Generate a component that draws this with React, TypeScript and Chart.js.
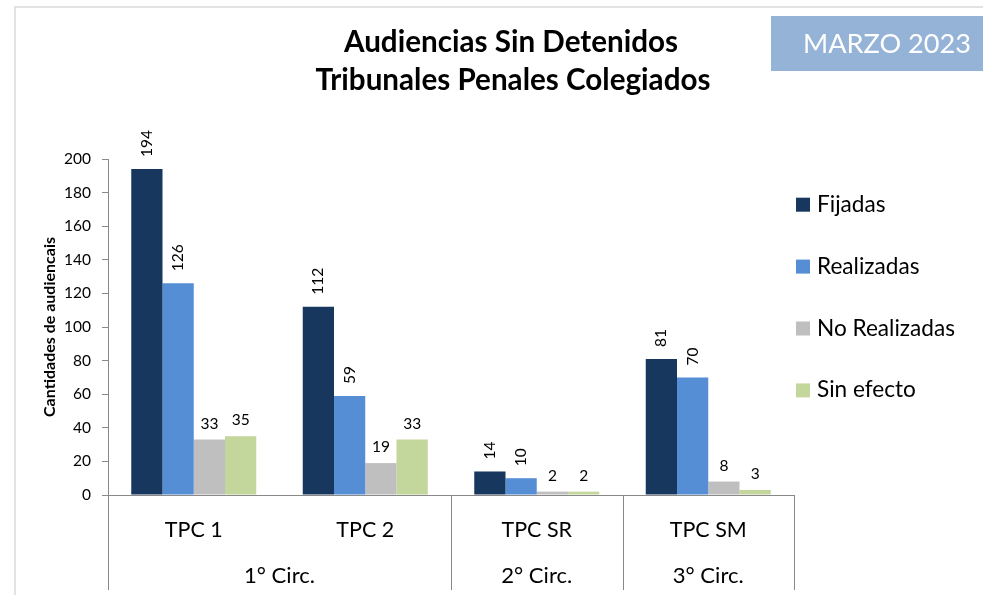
import React, { useEffect, useRef } from "react";
import { Chart, registerables } from "chart.js";

Chart.register(...registerables);

// ---- data ----
const categories = ["TPC 1", "TPC 2", "TPC SR", "TPC SM"];
const groupLabels = ["1° Circ.", "2° Circ.", "3° Circ."];
const groupSpans = [2, 1, 1];
const seriesNames = ["Fijadas", "Realizadas", "No Realizadas", "Sin efecto"];
const fijadas = [194, 112, 14, 81];
const realizadas = [126, 59, 10, 70];
const noRealizadas = [33, 19, 2, 8];
const sinEfecto = [35, 33, 2, 3];
const seriesColors = ["#17375E", "#558ED5", "#BFBFBF", "#C3D69B"];
const rotatedSeries = [true, true, false, false];
const titleLines = ["Audiencias Sin Detenidos", "Tribunales Penales Colegiados"];
const badgeText = "MARZO 2023";
const yAxisTitle = "Cantidades de audiencais";
const yMin = 0;
const yMax = 200;
const yStep = 20;

const FAMILY = "Lato, 'Open Sans', sans-serif";
const AXIS = "#898989";

function fitSize(text: string, weight: string, target: number): number {
  const c = document.createElement("canvas");
  const ctx = c.getContext("2d")!;
  ctx.font = `${weight} 100px ${FAMILY}`;
  const w = ctx.measureText(text).width;
  return (100 * target) / w;
}

export default function App() {
  const ref = useRef<HTMLCanvasElement | null>(null);

  useEffect(() => {
    const canvas = ref.current;
    if (!canvas) return;

    const titleSize = fitSize(titleLines[1], "bold", 395);
    const badgeSize = fitSize(badgeText, "normal", 168);
    const legendSize = fitSize("No Realizadas", "normal", 138);
    const catSize = fitSize("TPC SM", "normal", 77);
    const groupSize = fitSize("3° Circ.", "normal", 71);
    const yTitleSize = fitSize(yAxisTitle, "bold", 180);
    const tickSize = 15.5;
    const dataSize = 15.5;

    const decor = {
      id: "decor",
      beforeDraw(chart: any) {
        const ctx = chart.ctx as CanvasRenderingContext2D;
        ctx.save();
        ctx.fillStyle = "#FFFFFF";
        ctx.fillRect(0, 0, chart.width, chart.height);
        // frame
        ctx.fillStyle = "#E3E3E3";
        ctx.fillRect(14, 6, chart.width - 14, 2);
        ctx.fillRect(14, 6, 2, chart.height - 6);
        // title
        ctx.fillStyle = "#000000";
        ctx.font = `bold ${titleSize}px ${FAMILY}`;
        ctx.textAlign = "center";
        ctx.textBaseline = "alphabetic";
        ctx.fillText(titleLines[0], 511, 52);
        ctx.fillText(titleLines[1], 513, 90);
        // badge
        ctx.fillStyle = "#95B3D7";
        ctx.fillRect(771, 16, chart.width - 771, 55);
        ctx.fillStyle = "#FFFFFF";
        ctx.font = `normal ${badgeSize}px ${FAMILY}`;
        ctx.fillText(badgeText, 887, 53);
        // legend
        ctx.textAlign = "left";
        chart.data.datasets.forEach((ds: any, i: number) => {
          const top = 197.7 + i * 61.9;
          ctx.fillStyle = ds.backgroundColor;
          ctx.fillRect(796, top, 14, 14);
          ctx.fillStyle = "#000000";
          ctx.font = `normal ${legendSize}px ${FAMILY}`;
          ctx.fillText(ds.label, 817, top + 14);
        });
        ctx.restore();
      },
      afterDatasetsDraw(chart: any) {
        const ctx = chart.ctx as CanvasRenderingContext2D;
        ctx.save();
        ctx.fillStyle = "#000000";
        ctx.font = `normal ${dataSize}px ${FAMILY}`;
        chart.data.datasets.forEach((ds: any, i: number) => {
          const meta = chart.getDatasetMeta(i);
          meta.data.forEach((bar: any, j: number) => {
            const txt = String(ds.data[j]);
            if (rotatedSeries[i]) {
              ctx.save();
              ctx.translate(bar.x, bar.y - 12);
              ctx.rotate(-Math.PI / 2);
              ctx.textAlign = "left";
              ctx.textBaseline = "middle";
              ctx.fillText(txt, 0, 0);
              ctx.restore();
            } else {
              ctx.textAlign = "center";
              ctx.textBaseline = "alphabetic";
              ctx.fillText(txt, bar.x, bar.y - 11);
            }
          });
        });
        ctx.restore();
      },
      afterDraw(chart: any) {
        const ctx = chart.ctx as CanvasRenderingContext2D;
        const xs = chart.scales.x;
        const area = chart.chartArea;
        const n = categories.length;
        const cw = (xs.right - xs.left) / n;
        ctx.save();
        ctx.strokeStyle = AXIS;
        ctx.lineWidth = 1;
        let idx = 0;
        const bounds: number[] = [0];
        groupSpans.forEach((s) => {
          idx += s;
          bounds.push(idx);
        });
        bounds.forEach((b) => {
          const x = Math.round(xs.left + b * cw) + 0.5;
          ctx.beginPath();
          ctx.moveTo(x, area.bottom);
          ctx.lineTo(x, 590);
          ctx.stroke();
        });
        ctx.fillStyle = "#000000";
        ctx.textAlign = "center";
        ctx.textBaseline = "alphabetic";
        ctx.font = `normal ${catSize}px ${FAMILY}`;
        categories.forEach((c, i) => {
          ctx.fillText(c, xs.getPixelForValue(i), 536.5);
        });
        ctx.font = `normal ${groupSize}px ${FAMILY}`;
        groupLabels.forEach((g, k) => {
          const a = bounds[k];
          const b = bounds[k + 1];
          const cx = xs.left + ((a + b) / 2) * cw;
          ctx.fillText(g, cx, 583);
        });
        ctx.restore();
      },
    };

    const seriesData = [fijadas, realizadas, noRealizadas, sinEfecto];

    const chart = new Chart(canvas, {
      type: "bar",
      data: {
        labels: categories,
        datasets: seriesNames.map((name, i) => ({
          label: name,
          data: seriesData[i],
          backgroundColor: seriesColors[i],
          borderWidth: 0,
          categoryPercentage: 125 / 171.5,
          barPercentage: 1,
        })),
      },
      options: {
        responsive: false,
        animation: false,
        devicePixelRatio: 1,
        layout: { padding: { left: 0, top: 159, right: 189, bottom: 0 } },
        plugins: {
          legend: { display: false },
          tooltip: { enabled: false },
          title: { display: false },
        },
        scales: {
          x: {
            type: "category",
            grid: { display: false },
            ticks: { display: false },
            border: { display: true, color: AXIS, width: 1 },
            afterFit: (s: any) => {
              s.height = 100;
            },
          },
          y: {
            min: yMin,
            max: yMax,
            ticks: {
              stepSize: yStep,
              color: "#000000",
              padding: 11,
              font: { family: FAMILY, size: tickSize },
            },
            grid: {
              display: true,
              drawOnChartArea: false,
              drawTicks: true,
              tickLength: 6,
              color: AXIS,
            },
            border: { display: true, color: AXIS, width: 1 },
            title: {
              display: true,
              text: yAxisTitle,
              color: "#000000",
              font: { family: FAMILY, size: yTitleSize, weight: "bold" },
              padding: { top: 40, bottom: 0 },
            },
            afterFit: (s: any) => {
              s.width = 108;
            },
          },
        },
      },
      plugins: [decor],
    } as any);

    return () => chart.destroy();
  }, []);

  return (
    <div style={{ position: "fixed", left: 0, top: 0, width: 983, height: 595, background: "#fff" }}>
      <canvas ref={ref} width={983} height={595} style={{ display: "block", width: 983, height: 595 }} />
    </div>
  );
}
